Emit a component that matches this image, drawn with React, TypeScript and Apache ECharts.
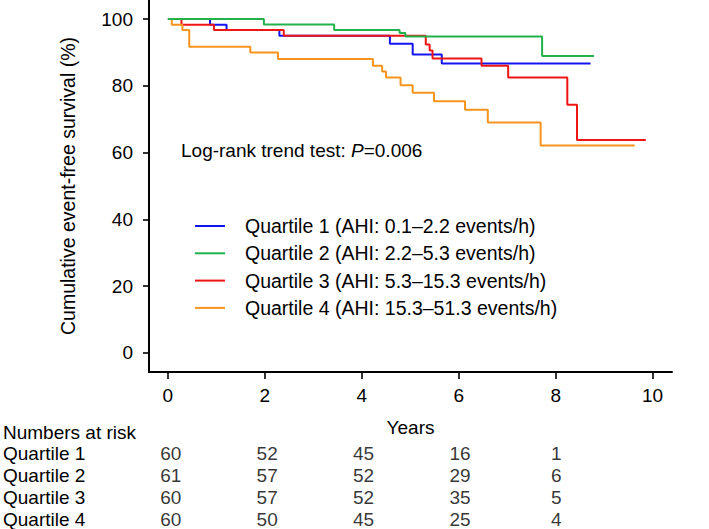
import React, { useEffect, useRef } from "react";
import * as echarts from "echarts";

// ---- data ----
const seriesNames = [
  "Quartile 1 (AHI: 0.1–2.2 events/h)",
  "Quartile 2 (AHI: 2.2–5.3 events/h)",
  "Quartile 3 (AHI: 5.3–15.3 events/h)",
  "Quartile 4 (AHI: 15.3–51.3 events/h)",
];

const q1Times = [0, 0.87, 1.21, 2.3, 4.58, 5.05, 5.65, 8.72];
const q1Surv = [100, 98.3, 96.7, 95.0, 92.6, 89.4, 86.7, 86.7];

const q2Times = [0, 1.98, 3.43, 4.78, 4.9, 7.72, 8.79];
const q2Surv = [100, 98.4, 96.7, 95.8, 94.8, 88.9, 88.9];

const q3Times = [0, 0.28, 0.95, 2.39, 5.32, 5.4, 5.46, 6.47, 7.02, 8.24, 8.44, 9.86];
const q3Surv = [100, 98.3, 96.7, 95.0, 92.4, 90.6, 88.2, 86.0, 82.5, 74.3, 63.8, 63.8];

const q4Times = [0, 0.08, 0.3, 0.44, 1.7, 2.27, 4.23, 4.42, 4.5, 4.8, 5.05, 5.49, 6.13, 6.6, 7.69, 9.63];
const q4Surv = [100, 98.3, 96.7, 91.7, 90.0, 88.0, 86.0, 84.3, 82.5, 80.2, 77.9, 75.4, 72.8, 69.0, 62.1, 62.1];

const xTicks = [0, 2, 4, 6, 8, 10];
const yTicks = [0, 20, 40, 60, 80, 100];

const riskRowLabels = ["Numbers at risk", "Quartile 1", "Quartile 2", "Quartile 3", "Quartile 4"];
const riskTimes = [0, 2, 4, 6, 8];
const risk1 = [60, 52, 45, 16, 1];
const risk2 = [61, 57, 52, 29, 6];
const risk3 = [60, 57, 52, 35, 5];
const risk4 = [60, 50, 45, 25, 4];

const colors = ["#1414f0", "#22b24c", "#ee1515", "#f7941d"];

const FONT = "'Liberation Sans', Arial, Helvetica, sans-serif";

export default function App() {
  const ref = useRef<HTMLDivElement>(null);

  useEffect(() => {
    if (!ref.current) return;
    const chart = echarts.init(ref.current, null, { renderer: "svg" });

    const xMin = -0.39;
    const xMax = 10.4;
    const zip = (t: number[], s: number[]) => t.map((v, i) => [v, s[i]]);
    const curves = [zip(q1Times, q1Surv), zip(q2Times, q2Surv), zip(q3Times, q3Surv), zip(q4Times, q4Surv)];
    const risks = [risk1, risk2, risk3, risk4];

    // drawing order: blue, red, orange, green on top
    const drawOrder = [0, 2, 3, 1];

    const lineSeries = drawOrder.map((k) => ({
      name: seriesNames[k],
      type: "line",
      xAxisIndex: 0,
      yAxisIndex: 0,
      step: "end",
      symbol: "none",
      data: curves[k],
      lineStyle: { color: colors[k], width: 2 },
      itemStyle: { color: colors[k] },
      silent: true,
    }));

    const riskData: any[] = [];
    risks.forEach((arr, r) => {
      arr.forEach((n, i) => riskData.push([riskTimes[i], r + 1, n]));
    });

    const option: any = {
      animation: false,
      backgroundColor: "#ffffff",
      textStyle: { fontFamily: FONT, color: "#000" },
      grid: [
        { left: 149, right: 709 - 672, top: 0, height: 372, containLabel: false },
        { left: 149, right: 709 - 672, top: 432, height: 87, containLabel: false },
      ],
      xAxis: [
        {
          type: "value",
          gridIndex: 0,
          min: xMin,
          max: xMax,
          name: "Years",
          nameLocation: "middle",
          nameGap: 46,
          nameTextStyle: { fontSize: 19, color: "#000", fontFamily: FONT },
          axisLine: { show: true, onZero: false, lineStyle: { color: "#000", width: 2 } },
          axisTick: { show: true, customValues: xTicks, length: 7, lineStyle: { color: "#000", width: 1.6 } },
          axisLabel: { customValues: xTicks, fontSize: 19, color: "#000", margin: 14, fontFamily: FONT },
          splitLine: { show: false },
        },
        {
          type: "value",
          gridIndex: 1,
          min: xMin,
          max: xMax,
          show: false,
        },
      ],
      yAxis: [
        {
          type: "value",
          gridIndex: 0,
          min: -5.7,
          max: 105.7,
          name: "Cumulative event-free survival (%)",
          nameLocation: "middle",
          nameGap: 71,
          nameTextStyle: { fontSize: 19.5, color: "#000", fontFamily: FONT },
          axisLine: { show: true, onZero: false, lineStyle: { color: "#000", width: 2 } },
          axisTick: { show: true, customValues: yTicks, length: 6, lineStyle: { color: "#000", width: 1.6 } },
          axisLabel: { customValues: yTicks, fontSize: 19, color: "#000", margin: 16, fontFamily: FONT },
          splitLine: { show: false },
        },
        {
          type: "category",
          gridIndex: 1,
          inverse: true,
          boundaryGap: false,
          data: riskRowLabels,
          axisLine: { show: false },
          axisTick: { show: false },
          splitLine: { show: false },
          axisLabel: { interval: 0, align: "left", margin: 149, fontSize: 19, color: "#000", fontFamily: FONT },
        },
      ],
      legend: {
        show: true,
        orient: "vertical",
        left: 190,
        top: 211,
        icon: "rect",
        itemWidth: 30,
        itemHeight: 2,
        itemGap: 7.3,
        data: seriesNames,
        selectedMode: false,
        textStyle: { fontSize: 19.5, color: "#000", fontFamily: FONT, lineHeight: 20, padding: [0, 0, 0, 15] },
      },
      graphic: [
        {
          type: "text",
          left: 181,
          top: 141,
          style: {
            text: "{n|Log-rank trend test: }{i|P}{n|=0.006}",
            rich: {
              n: { fontSize: 19, fontFamily: FONT, fill: "#000" },
              i: { fontSize: 19, fontFamily: FONT, fontStyle: "italic", fill: "#000" },
            },
          },
        },
      ],
      series: [
        ...lineSeries,
        {
          type: "scatter",
          xAxisIndex: 1,
          yAxisIndex: 1,
          symbolSize: 1,
          itemStyle: { color: "rgba(0,0,0,0)" },
          data: riskData,
          silent: true,
          label: {
            show: true,
            position: "inside",
            formatter: (p: any) => String(p.value[2]),
            fontSize: 19,
            color: "#000",
            fontFamily: FONT,
          },
          labelLayout: { hideOverlap: false },
        },
      ],
    };

    chart.setOption(option);
    return () => chart.dispose();
  }, []);

  return (
    <div
      ref={ref}
      style={{ position: "absolute", left: 0, top: 0, width: 709, height: 529 }}
    />
  );
}
